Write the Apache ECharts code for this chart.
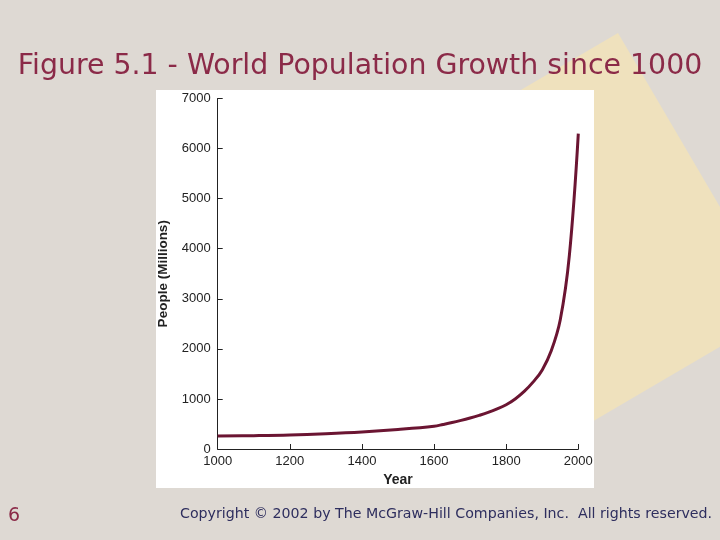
<!DOCTYPE html>
<html>
<head>
<meta charset="utf-8">
<title>World Population Growth since 1000</title>
<script src="https://cdn.jsdelivr.net/npm/echarts@6/dist/echarts.min.js"></script>
<style>
  html, body { margin: 0; padding: 0; background: #ded9d3; }
  #chart { width: 720px; height: 540px; }
</style>
</head>
<body>
<div id="chart"></div>
<script>
const echarts = window.echarts

// (millions of people)
const years = [1000, 1100, 1200, 1300, 1400, 1500, 1600, 1625, 1650, 1675, 1700, 1725, 1750, 1775, 1800, 1825, 1850, 1875, 1900, 1925, 1950, 1975, 2000]
const population = [260, 267, 280, 305, 340, 390, 455, 490, 528, 572, 620, 672, 730, 800, 885, 1000, 1150, 1340, 1580, 1960, 2580, 3850, 6300]

const yearTicks = [1000, 1200, 1400, 1600, 1800, 2000]
const peopleTicks = [0, 1000, 2000, 3000, 4000, 5000, 6000, 7000]

const titleText = 'Figure 5.1 - World Population Growth since 1000'
const footerText = 'Copyright \u00a9 2002 by The McGraw-Hill Companies, Inc.  All rights reserved.'
const slideNo = '6'

const labelFont = '"Liberation Sans", Arial, sans-serif'
const slideFont = '"DejaVu Sans", Verdana, sans-serif'

const myChart = echarts.init(document.getElementById('chart'))

const option = {
  backgroundColor: '#ded9d3',
  animation: false,
  title: {
    text: titleText,
    left: 'center',
    top: 48,
    textStyle: {
      fontFamily: slideFont,
      fontSize: 28.4,
      fontWeight: 'normal',
      color: '#8b2a48'
    }
  },
  graphic: [
    // tilted yellow square behind the figure
    {
      type: 'polygon',
      z: -20,
      silent: true,
      shape: { points: [[618, 33], [781, 311], [503, 474], [340, 196]] },
      style: { fill: '#efe1bd' }
    },
    // white panel of the scanned figure
    {
      type: 'rect',
      z: -10,
      silent: true,
      shape: { x: 156, y: 90, width: 438, height: 398 },
      style: { fill: '#ffffff' }
    },
    {
      type: 'text',
      left: 8,
      top: 507,
      style: { text: slideNo, fontFamily: slideFont, fontSize: 19, fill: '#8b2a48' }
    },
    {
      type: 'text',
      left: 180,
      top: 507,
      style: { text: footerText, fontFamily: slideFont, fontSize: 14.2, fill: '#2e2e5e' }
    }
  ],
  grid: {
    left: 217.7,
    right: 141.7,
    top: 98.5,
    bottom: 91
  },
  xAxis: {
    type: 'value',
    min: yearTicks[0],
    max: yearTicks[yearTicks.length - 1],
    interval: 200,
    name: 'Year',
    nameLocation: 'middle',
    nameGap: 23,
    nameTextStyle: { fontFamily: labelFont, fontWeight: 'bold', fontSize: 14, color: '#222' },
    axisLine: { lineStyle: { color: '#222', width: 1 } },
    axisTick: { inside: true, length: 5, lineStyle: { color: '#222' } },
    axisLabel: {
      margin: 6,
      fontFamily: labelFont,
      fontSize: 13,
      color: '#222',
      formatter: v => String(v)
    },
    splitLine: { show: false }
  },
  yAxis: {
    type: 'value',
    min: peopleTicks[0],
    max: peopleTicks[peopleTicks.length - 1],
    interval: 1000,
    name: 'People (Millions)',
    nameLocation: 'middle',
    nameGap: 47,
    nameTextStyle: { fontFamily: labelFont, fontWeight: 'bold', fontSize: 13.5, color: '#222' },
    axisLine: { show: true, lineStyle: { color: '#222', width: 1 } },
    axisTick: { show: true, inside: true, length: 5, lineStyle: { color: '#222' } },
    axisLabel: {
      margin: 7,
      fontFamily: labelFont,
      fontSize: 13,
      color: '#222',
      formatter: v => String(v)
    },
    splitLine: { show: false }
  },
  series: [{
    type: 'line',
    data: years.map((y, i) => [y, population[i]]),
    smooth: 0.4,
    showSymbol: false,
    lineStyle: { color: '#6b1532', width: 3 }
  }]
}

myChart.setOption(option)
</script>
</body>
</html>
